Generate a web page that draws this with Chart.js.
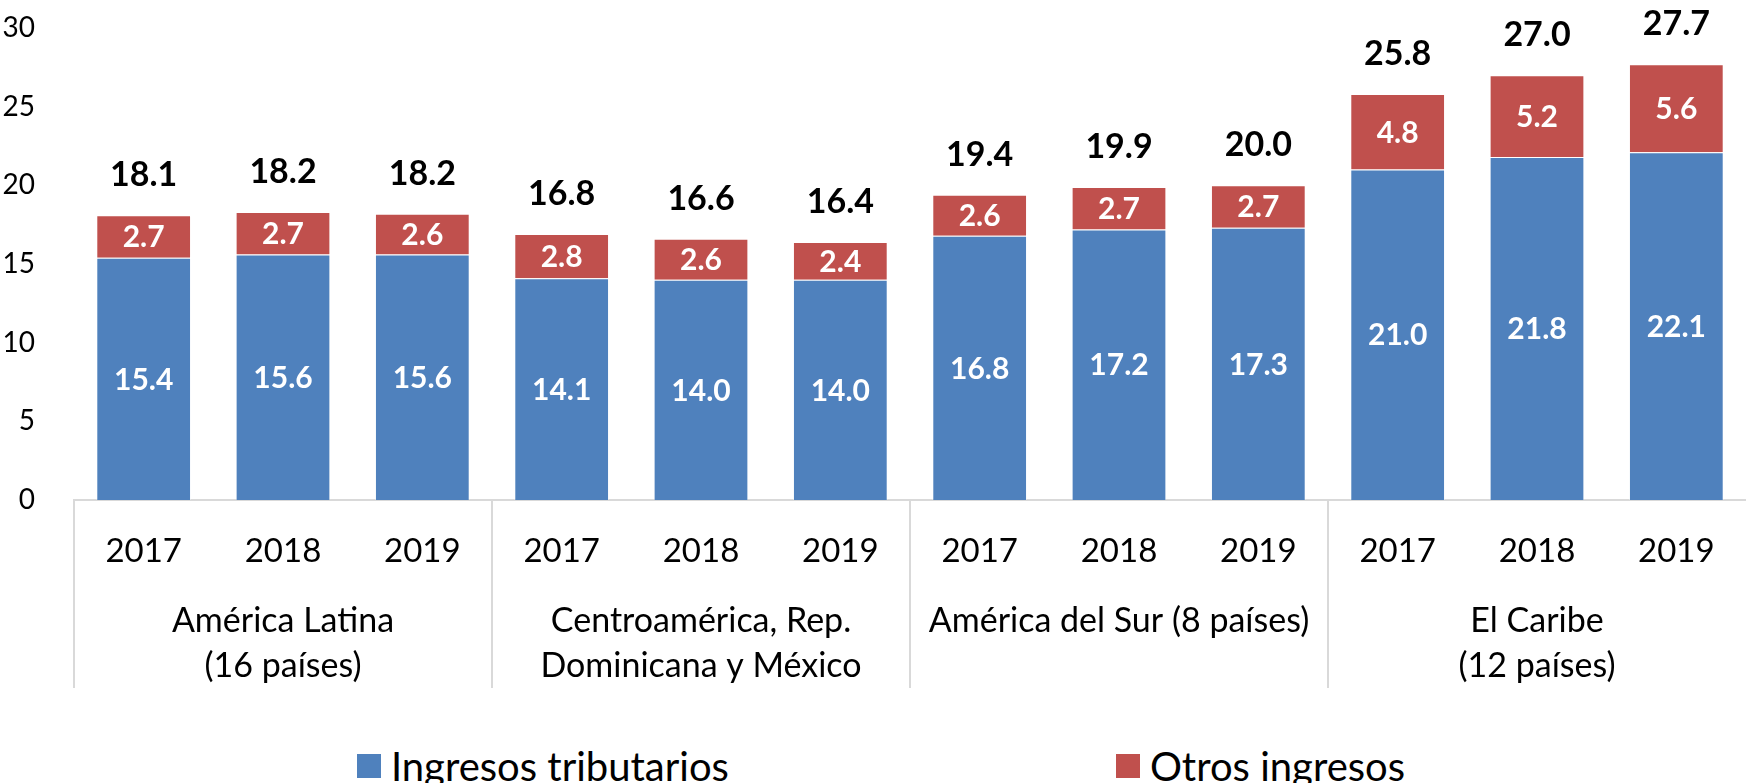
<!DOCTYPE html>
<html>
<head>
<meta charset="utf-8">
<script src="https://cdn.jsdelivr.net/npm/chart.js@4.4.1/dist/chart.umd.min.js"></script>
<style>
  body { margin: 0; background: #fff; }
  #wrap { position: relative; width: 1746px; height: 783px; font-family: Lato, sans-serif; }
  #chart { position: absolute; left: 0; top: 0; }
  #legend { position: absolute; left: 8px; top: 742px; width: 1746px; display: flex; justify-content: center; gap: 387px; }
  .legend-item { display: flex; align-items: center; font-size: 40px; line-height: 48px; color: #000; }
  .legend-box { width: 24px; height: 24px; margin-right: 10px; }
</style>
</head>
<body>
<div id="wrap">
  <canvas id="chart" width="1746" height="700"></canvas>
  <div id="legend"></div>
</div>
<script>
const years = ["2017", "2018", "2019"];
const groups = [
  ["América Latina", "(16 países)"],
  ["Centroamérica, Rep.", "Dominicana y México"],
  ["América del Sur (8 países)"],
  ["El Caribe", "(12 países)"]
];
const tributarios = [15.4, 15.6, 15.6, 14.1, 14.0, 14.0, 16.8, 17.2, 17.3, 21.0, 21.8, 22.1];
const otros = [2.7, 2.7, 2.6, 2.8, 2.6, 2.4, 2.6, 2.7, 2.7, 4.8, 5.2, 5.6];
const totals = [18.1, 18.2, 18.2, 16.8, 16.6, 16.4, 19.4, 19.9, 20.0, 25.8, 27.0, 27.7];

const labels = [];
groups.forEach(() => years.forEach((y) => labels.push(y)));

// value labels inside the segments + total above each stack
const valueLabels = {
  id: "valueLabels",
  afterDatasetsDraw(chart) {
    const ctx = chart.ctx;
    ctx.save();
    ctx.textAlign = "center";
    ctx.textBaseline = "middle";
    ctx.fillStyle = "#fff";
    ctx.font = "bold 30px Lato";
    chart.data.datasets.forEach((ds, di) => {
      chart.getDatasetMeta(di).data.forEach((bar, i) => {
        ctx.fillText(ds.data[i].toFixed(1), bar.x, (bar.y + bar.base) / 2 + 1);
      });
    });
    const top = chart.getDatasetMeta(chart.data.datasets.length - 1).data;
    ctx.fillStyle = "#000";
    ctx.font = "bold 34px Lato";
    top.forEach((bar, i) => {
      ctx.fillText(totals[i].toFixed(1), bar.x, bar.y - 40);
    });
    ctx.restore();
  }
};

// separators and region names under the years
const groupAxis = {
  id: "groupAxis",
  afterDraw(chart) {
    const ctx = chart.ctx;
    const x = chart.scales.x;
    const bottom = chart.chartArea.bottom;
    const step = x.width / labels.length;
    ctx.save();
    ctx.strokeStyle = "#d9d9d9";
    ctx.lineWidth = 2;
    ctx.fillStyle = "#000";
    ctx.font = "34px Lato";
    ctx.textAlign = "center";
    ctx.textBaseline = "middle";
    groups.forEach((lines, g) => {
      const left = x.left + g * years.length * step;
      ctx.beginPath();
      ctx.moveTo(left, bottom);
      ctx.lineTo(left, bottom + 188);
      ctx.stroke();
      const cx = left + (years.length * step) / 2;
      lines.forEach((t, j) => {
        ctx.fillText(t, cx, bottom + 121 + j * 45);
      });
    });
    ctx.restore();
  }
};

const chart = new Chart(document.getElementById("chart"), {
  type: "bar",
  data: {
    labels: labels,
    datasets: [
      {
        label: "Ingresos tributarios",
        data: tributarios,
        backgroundColor: "#4F81BD",
        borderColor: "rgba(255,255,255,0.45)",
        borderWidth: 1
      },
      {
        label: "Otros ingresos",
        data: otros,
        backgroundColor: "#C0504D",
        borderColor: "rgba(255,255,255,0.45)",
        borderWidth: 1
      }
    ]
  },
  options: {
    responsive: false,
    animation: false,
    layout: { padding: { top: 28, right: 0, bottom: 12, left: 0 } },
    datasets: { bar: { barPercentage: 0.68, categoryPercentage: 1 } },
    scales: {
      x: {
        stacked: true,
        grid: { display: false },
        border: { display: true, color: "#d9d9d9", width: 2 },
        ticks: { color: "#000", font: { family: "Lato", size: 33 }, padding: 24, maxRotation: 0, autoSkip: false },
        afterFit: (scale) => { scale.height = 188; }
      },
      y: {
        stacked: true,
        min: 0,
        max: 30,
        grid: { display: false },
        border: { display: false },
        ticks: { stepSize: 5, color: "#000", font: { family: "Lato", size: 28 }, padding: 31 },
        afterFit: (scale) => {
          scale.width = 74;
          // tick padding should not push the plot down
          scale.paddingTop = 0;
          scale.paddingBottom = 0;
        }
      }
    },
    plugins: {
      legend: { display: false },
      tooltip: { enabled: false }
    }
  },
  plugins: [valueLabels, groupAxis]
});

// html legend built from the chart's own legend items
const legendEl = document.getElementById("legend");
chart.options.plugins.legend.labels.generateLabels(chart).forEach((item) => {
  const el = document.createElement("div");
  el.className = "legend-item";
  const box = document.createElement("span");
  box.className = "legend-box";
  box.style.background = item.fillStyle;
  const text = document.createElement("span");
  text.textContent = item.text;
  el.appendChild(box);
  el.appendChild(text);
  legendEl.appendChild(el);
});
</script>
</body>
</html>
